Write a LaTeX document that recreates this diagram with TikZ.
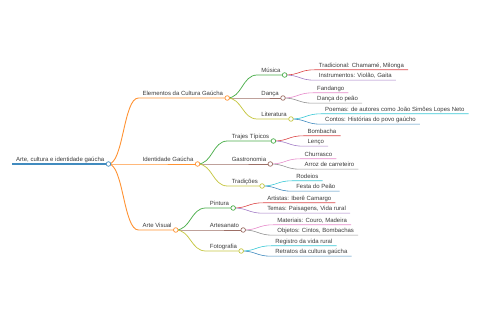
\documentclass[tikz,border=0pt]{standalone}
\usepackage{fontspec}
\setmainfont{Liberation Sans}
\definecolor{cblue}{HTML}{1F77B4}
\definecolor{corange}{HTML}{FF7F0E}
\definecolor{cgreen}{HTML}{2CA02C}
\definecolor{cred}{HTML}{D62728}
\definecolor{cpurple}{HTML}{9467BD}
\definecolor{cbrown}{HTML}{8C564B}
\definecolor{cpink}{HTML}{E377C2}
\definecolor{cgray}{HTML}{7F7F7F}
\definecolor{colive}{HTML}{BCBD22}
\definecolor{ccyan}{HTML}{17BECF}
\definecolor{txt}{HTML}{3A3A3A}
\tikzset{
  lbl/.style={anchor=south west, inner xsep=4pt, inner ysep=0.7pt,
    text height=4.5pt, text depth=1.3pt, text=txt,
    font=\fontsize{6}{7}\selectfont},
  knot/.style={draw=#1!85!white, fill=white, line width=0.7pt},
}
\begin{document}
\begin{tikzpicture}[x=1pt,y=-1pt]
  \useasboundingbox (0,0) rectangle (480,320);
  % root and first level
  \node[lbl] (root) at (12,164) {Arte, cultura e identidade gaúcha};
  \node[lbl] (elem) at ([shift={(30,-66)}]root.south east) {Elementos da Cultura Gaúcha};
  \node[lbl] (ident) at ([shift={(30,0)}]root.south east) {Identidade Gaúcha};
  \node[lbl] (arte) at ([shift={(30,66)}]root.south east) {Arte Visual};
  % second level
  \node[lbl] (musica) at ([shift={(30,-23)}]elem.south east) {Música};
  \node[lbl] (danca) at ([shift={(30,0)}]elem.south east) {Dança};
  \node[lbl] (lit) at ([shift={(30,21)}]elem.south east) {Literatura};
  \node[lbl] (trajes) at ([shift={(30,-23)}]ident.south east) {Trajes Típicos};
  \node[lbl] (gastro) at ([shift={(30,0)}]ident.south east) {Gastronomia};
  \node[lbl] (trad) at ([shift={(30,22)}]ident.south east) {Tradições};
  \node[lbl] (pint) at ([shift={(30,-22)}]arte.south east) {Pintura};
  \node[lbl] (artes) at ([shift={(30,0)}]arte.south east) {Artesanato};
  \node[lbl] (foto) at ([shift={(30,21)}]arte.south east) {Fotografia};
  % leaves
  \node[lbl] (trdc) at ([shift={(30,-5.2)}]musica.south east) {Tradicional: Chamamé, Milonga};
  \node[lbl] (instr) at ([shift={(30,5.2)}]musica.south east) {Instrumentos: Violão, Gaita};
  \node[lbl] (fand) at ([shift={(30,-5.2)}]danca.south east) {Fandango};
  \node[lbl] (peao) at ([shift={(30,5.2)}]danca.south east) {Dança do peão};
  \node[lbl] (poem) at ([shift={(30,-5.2)}]lit.south east) {Poemas: de autores como João Simões Lopes Neto};
  \node[lbl] (cont) at ([shift={(30,5.2)}]lit.south east) {Contos: Histórias do povo gaúcho};
  \node[lbl] (bomb) at ([shift={(30,-5.2)}]trajes.south east) {Bombacha};
  \node[lbl] (lenco) at ([shift={(30,5.2)}]trajes.south east) {Lenço};
  \node[lbl] (churr) at ([shift={(30,-5.2)}]gastro.south east) {Churrasco};
  \node[lbl] (arroz) at ([shift={(30,5.2)}]gastro.south east) {Arroz de carreteiro};
  \node[lbl] (rode) at ([shift={(30,-5.2)}]trad.south east) {Rodeios};
  \node[lbl] (festa) at ([shift={(30,5.2)}]trad.south east) {Festa do Peão};
  \node[lbl] (artis) at ([shift={(30,-5.2)}]pint.south east) {Artistas: Iberê Camargo};
  \node[lbl] (temas) at ([shift={(30,5.2)}]pint.south east) {Temas: Paisagens, Vida rural};
  \node[lbl] (mater) at ([shift={(30,-5.2)}]artes.south east) {Materiais: Couro, Madeira};
  \node[lbl] (objet) at ([shift={(30,5.2)}]artes.south east) {Objetos: Cintos, Bombachas};
  \node[lbl] (regis) at ([shift={(30,-5.2)}]foto.south east) {Registro da vida rural};
  \node[lbl] (retr) at ([shift={(30,5.2)}]foto.south east) {Retratos da cultura gaúcha};
  % links
  \draw[cblue!85!white, line width=1.2pt] (root.south west) -- (root.south east);
  \foreach \a/\b/\c/\w in {root/elem/corange/0.9, root/ident/corange/0.9, root/arte/corange/0.9,
      elem/musica/cgreen/0.75, elem/danca/cbrown/0.75, elem/lit/colive/0.75,
      ident/trajes/cgreen/0.75, ident/gastro/cbrown/0.75, ident/trad/colive/0.75,
      arte/pint/cgreen/0.75, arte/artes/cbrown/0.75, arte/foto/colive/0.75,
      musica/trdc/cred/0.6, musica/instr/cpurple/0.6, danca/fand/cpink/0.6, danca/peao/cgray/0.6,
      lit/poem/ccyan/0.6, lit/cont/cblue/0.6, trajes/bomb/cred/0.6, trajes/lenco/cpurple/0.6,
      gastro/churr/cpink/0.6, gastro/arroz/cgray/0.6, trad/rode/ccyan/0.6, trad/festa/cblue/0.6,
      pint/artis/cred/0.6, pint/temas/cpurple/0.6, artes/mater/cpink/0.6, artes/objet/cgray/0.6,
      foto/regis/ccyan/0.6, foto/retr/cblue/0.6}
    \draw[\c!85!white, line width=\w pt] (\a.south east) .. controls +(15,0) and +(-15,0) .. (\b.south west) -- (\b.south east);
  % circles
  \foreach \n/\c in {root/cblue, elem/corange, ident/corange, arte/corange,
      musica/cgreen, danca/cbrown, lit/colive, trajes/cgreen, gastro/cbrown, trad/colive,
      pint/cgreen, artes/cbrown, foto/colive}
    \draw[knot=\c] (\n.south east) circle (2.3pt);
\end{tikzpicture}
\end{document}
